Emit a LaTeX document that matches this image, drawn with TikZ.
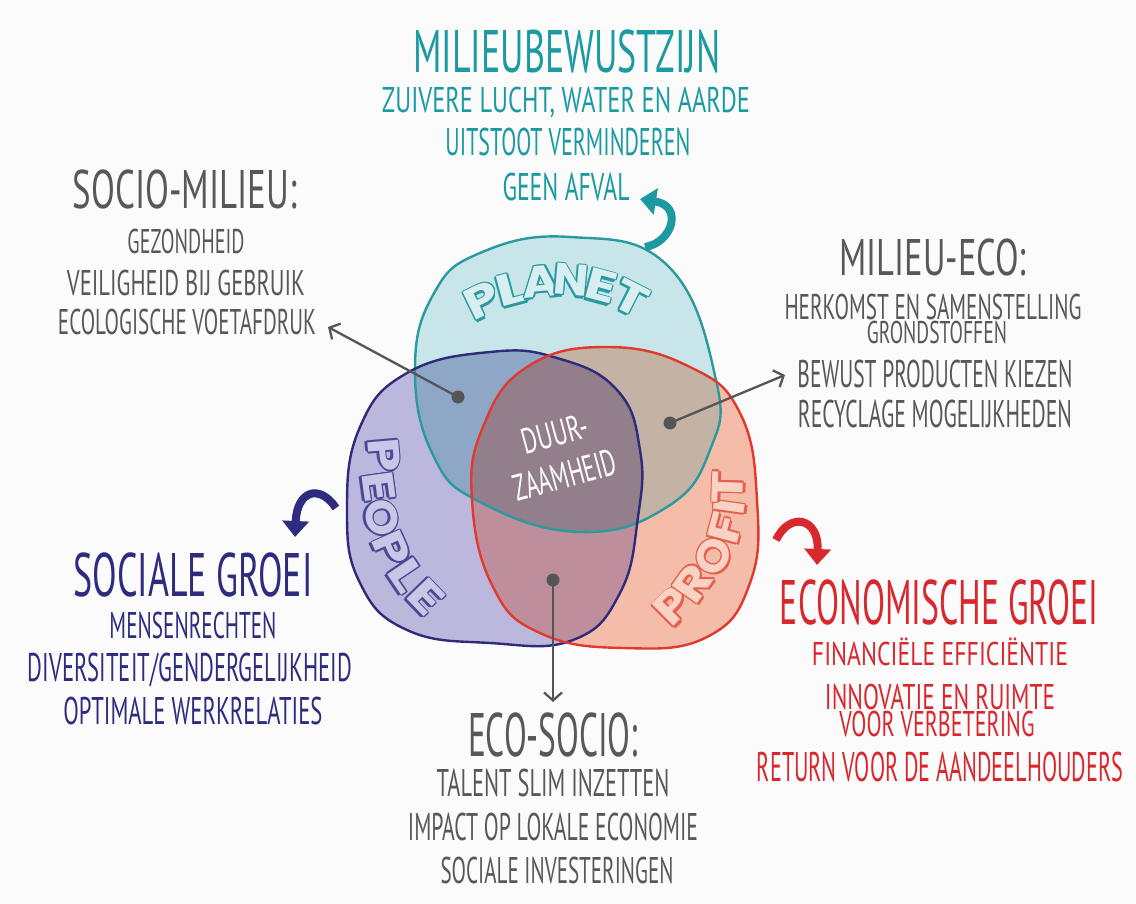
\documentclass[tikz,border=0pt]{standalone}
\usepackage{fontspec}
\usepackage{graphicx}
\usetikzlibrary{arrows.meta}
\setmainfont{PT Sans}
\newfontfamily\blobfont{Poppins}
\definecolor{bg}{HTML}{FCFBFC}
\definecolor{tealT}{HTML}{1B9BA1}
\definecolor{grayT}{HTML}{58585A}
\definecolor{navyT}{HTML}{2E2C7E}
\definecolor{redT}{HTML}{D9272E}
\definecolor{planetF}{HTML}{C8E6EA}
\definecolor{peopleF}{HTML}{BCB8DD}
\definecolor{profitF}{HTML}{F5BDA9}
\definecolor{plpeF}{HTML}{8EA7C6}
\definecolor{plprF}{HTML}{C4B3A4}
\definecolor{peprF}{HTML}{BF8E9C}
\definecolor{allF}{HTML}{937F8B}
\definecolor{planetS}{HTML}{2A9A9E}
\definecolor{peopleS}{HTML}{2E2B7A}
\definecolor{profitS}{HTML}{E0392E}
\definecolor{pldk}{HTML}{2A9AA0}
\definecolor{pllt}{HTML}{D8EEF1}
\definecolor{pedk}{HTML}{4B4896}
\definecolor{pelt}{HTML}{CAC6E6}
\definecolor{prdk}{HTML}{E4604C}
\definecolor{prlt}{HTML}{FAD2C3}
\definecolor{dotgray}{HTML}{555557}
\newcommand\fitl[3]{\resizebox{#1pt}{#2pt}{\rule{0pt}{\fontcharht\font`H}\smash{#3}}}
\newcommand\cpy[3]{\rlap{\kern#1\raisebox{#2}{#3}}}
% outlined letter: dark colour, light colour, width, height, letter
\newcommand\bl[5]{\resizebox{#3pt}{#4pt}{\rule{0pt}{\fontcharht\font`H}\smash{%
{\color{#1}\cpy{-0.3pt}{-1.3pt}{#5}\cpy{-0.15pt}{-0.9pt}{#5}%
\cpy{0.6pt}{0pt}{#5}\cpy{-0.6pt}{0pt}{#5}\cpy{0pt}{0.45pt}{#5}\cpy{0pt}{-0.45pt}{#5}%
\cpy{0.42pt}{0.32pt}{#5}\cpy{-0.42pt}{0.32pt}{#5}\cpy{0.42pt}{-0.32pt}{#5}\cpy{-0.42pt}{-0.32pt}{#5}}%
{\color{#2}#5}}}}
\def\planetpath{plot[smooth cycle, tension=0.75] coordinates {(570,237) (668,266) (716,380) (710,450) (667,507) (580,532) (480,502) (433,455) (415,370) (433,295) (480,253)}}
\def\peoplepath{plot[smooth cycle, tension=0.75] coordinates {(490,352) (557,358) (617,390) (640,450) (638,517) (620,593) (573,640) (490,643) (407,630) (360,583) (347,510) (360,427) (407,373)}}
\def\profitpath{plot[smooth cycle, tension=0.75] coordinates {(607,347) (690,367) (740,413) (757,500) (750,583) (707,637) (623,648) (540,633) (493,587) (472,500) (483,427) (527,367)}}
\tikzset{
  txt/.style={inner sep=0pt, outer sep=0pt, anchor=center},
  bletter/.style={inner sep=0pt, font=\blobfont\bfseries\fontsize{20}{22}\selectfont},
  dot/.style={circle, fill=dotgray, minimum size=13pt, inner sep=0pt},
  conn/.style={draw=dotgray, line width=2.3pt, -{Straight Barb[length=8pt,width=18pt]}},
  curvy/.style={line width=8pt, -{Triangle[length=16pt,width=26pt]}},
  blobline/.style={line width=2.4pt}
}
\begin{document}
\begin{tikzpicture}[x=1pt,y=-1pt]
\fill[bg] (0,0) rectangle (1136,904);
\useasboundingbox (0,0) rectangle (1136,904);
% blob fills
\fill[planetF] \planetpath;
\fill[peopleF] \peoplepath;
\fill[profitF] \profitpath;
\begin{scope}
  \clip \planetpath;
  \fill[plpeF] \peoplepath;
  \fill[plprF] \profitpath;
\end{scope}
\begin{scope}
  \clip \peoplepath;
  \fill[peprF] \profitpath;
\end{scope}
\begin{scope}
  \clip \planetpath;
  \clip \peoplepath;
  \fill[allF] \profitpath;
\end{scope}
\draw[blobline, planetS] \planetpath;
\draw[blobline, peopleS] \peoplepath;
\draw[blobline, profitS] \profitpath;
% blob labels
\foreach \c/\x/\y/\r/\w [count=\i] in {P/482/300/26/34, L/511/289/15/30, A/541/281/5/37, N/571/280/-5/35, E/601/286/-15/31, T/631/298/-27/33}
  {\node[bletter, rotate=\r] (pl\i) at (\x,\y) {\bl{pldk}{pllt}{\w}{31}{\c}};}
\foreach \c/\x/\y/\r/\w [count=\i] in {P/384/455/-85/34, E/379/487/-82/31, O/382/518/-76/37, P/392/549/-66/34, L/407/575/-56/30, E/426/597/-46/31}
  {\node[bletter, rotate=\r] (pe\i) at (\x,\y) {\bl{pedk}{pelt}{\w}{31}{\c}};}
\foreach \c/\x/\y/\r/\w [count=\i] in {P/673/606/45/34, R/693/583/55/35, O/713/556/65/37, F/725/528/75/30, I/729/507/82/15, T/728/487/88/33}
  {\node[bletter, rotate=\r] (pr\i) at (\x,\y) {\bl{prdk}{prlt}{\w}{31}{\c}};}
% centre
\node[txt, white, rotate=15] (duur1) at (555,434) {\fitl{68}{25}{DUUR-}};
\node[txt, white, rotate=15] (duur2) at (565,475) {\fitl{105}{26}{ZAAMHEID}};
% dots and connectors
\node[dot] (dsm) at (458,397) {};
\node[dot] (dme) at (670,423) {};
\node[dot] (des) at (553,580) {};
\coordinate (asm) at (328,327);
\coordinate (ame) at (785,375);
\coordinate (aes) at (553,702);
\draw[conn] (dsm.center) -- (asm);
\draw[conn] (dme.center) -- (ame);
\draw[conn] (des.center) -- (aes);
% curved arrows
\coordinate (tA) at (645,247); \coordinate (tB) at (640,199);
\draw[curvy, tealT] (tA) .. controls (672,243) and (684,206) .. (tB);
\coordinate (nA) at (336,508); \coordinate (nB) at (295,537);
\draw[curvy, navyT] (nA) .. controls (320,484) and (297,490) .. (nB);
\coordinate (rA) at (776,540); \coordinate (rB) at (817,565);
\draw[curvy, redT] (rA) .. controls (790,511) and (819,518) .. (rB);
% top block
\node[txt, tealT] (m0) at (567,52) {\fitl{307}{42}{MILIEUBEWUSTZIJN}};
\node[txt, tealT] (m1) at (566,100) {\fitl{368}{25}{ZUIVERE LUCHT, WATER EN AARDE}};
\node[txt, tealT] (m2) at (568,142) {\fitl{245}{27}{UITSTOOT VERMINDEREN}};
\node[txt, tealT] (m3) at (566,187) {\fitl{127}{27}{GEEN AFVAL}};
% socio-milieu
\node[txt, grayT] (s0) at (185,190) {\fitl{224}{38}{SOCIO-MILIEU:}};
\node[txt, grayT] (s1) at (186,242) {\fitl{117}{24}{GEZONDHEID}};
\node[txt, grayT] (s2) at (186,283) {\fitl{238}{25}{VEILIGHEID BIJ GEBRUIK}};
\node[txt, grayT] (s3) at (187,322) {\fitl{258}{25}{ECOLOGISCHE VOETAFDRUK}};
% milieu-eco
\node[txt, grayT] (e0) at (933,258) {\fitl{187}{36}{MILIEU-ECO:}};
\node[txt, grayT] (e1) at (933,307) {\fitl{297}{25}{HERKOMST EN SAMENSTELLING}};
\node[txt, grayT] (e2) at (937,332) {\fitl{140}{22}{GRONDSTOFFEN}};
\node[txt, grayT] (e3) at (935,374) {\fitl{275}{27}{BEWUST PRODUCTEN KIEZEN}};
\node[txt, grayT] (e4) at (935,414) {\fitl{274}{27}{RECYCLAGE MOGELIJKHEDEN}};
% sociale groei
\node[txt, navyT] (g0) at (193,575) {\fitl{239}{43}{SOCIALE GROEI}};
\node[txt, navyT] (g1) at (193,625) {\fitl{167}{26}{MENSENRECHTEN}};
\node[txt, navyT] (g2) at (190,667) {\fitl{324}{28}{DIVERSITEIT/GENDERGELIJKHEID}};
\node[txt, navyT] (g3) at (193,711) {\fitl{259}{27}{OPTIMALE WERKRELATIES}};
% economische groei
\node[txt, redT] (r0) at (939,602) {\fitl{318}{44}{ECONOMISCHE GROEI}};
\node[txt, redT] (r1) at (940,654) {\fitl{256}{23}{FINANCIËLE EFFICIËNTIE}};
\node[txt, redT] (r2) at (940,697) {\fitl{230}{25}{INNOVATIE EN RUIMTE}};
\node[txt, redT] (r3) at (937,724) {\fitl{195}{25}{VOOR VERBETERING}};
\node[txt, redT] (r4) at (940,767) {\fitl{366}{29}{RETURN VOOR DE AANDEELHOUDERS}};
% eco-socio
\node[txt, grayT] (c0) at (553,735) {\fitl{170}{43}{ECO-SOCIO:}};
\node[txt, grayT] (c1) at (553,783) {\fitl{233}{27}{TALENT SLIM INZETTEN}};
\node[txt, grayT] (c2) at (553,827) {\fitl{290}{27}{IMPACT OP LOKALE ECONOMIE}};
\node[txt, grayT] (c3) at (557,870) {\fitl{233}{26}{SOCIALE INVESTERINGEN}};
\end{tikzpicture}
\end{document}
